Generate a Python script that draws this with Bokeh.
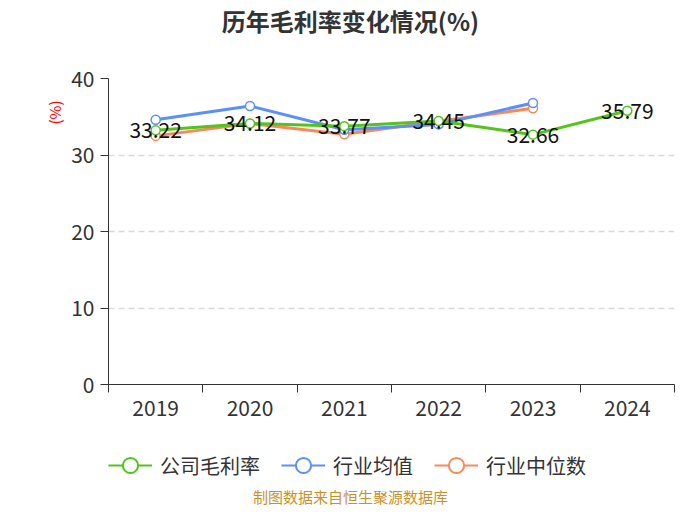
from bokeh.plotting import figure
from bokeh.layouts import column
from bokeh.models import Legend, LegendItem, ColumnDataSource, FixedTicker, Range1d, Title, Label
from bokeh.core.properties import value
from bokeh.embed import file_html
from bokeh.resources import INLINE

years = ["2019", "2020", "2021", "2022", "2023", "2024"]
company = [33.22, 34.12, 33.77, 34.45, 32.66, 35.79]
ind_avg_years = ["2019", "2020", "2021", "2022", "2023"]
ind_avg = [34.6, 36.4, 33.3, 34.0, 36.8]
ind_med_years = ["2019", "2020", "2021", "2022", "2023"]
ind_med = [32.5, 34.1, 32.7, 34.4, 36.1]
y_ticks = [0, 10, 20, 30, 40]
series_names = ["公司毛利率", "行业均值", "行业中位数"]
title_text = "历年毛利率变化情况(%)"
source_text = "制图数据来自恒生聚源数据库"

FONT = "Noto Sans CJK SC"
GREEN = "#52c41a"
BLUE = "#5b8ff9"
ORANGE = "#f7895a"
COLORS = [GREEN, BLUE, ORANGE]
W = 684
FRAME_LEFT = 108   # frames of the stacked figures are aligned to the main chart


def strip(h):
    f = figure(width=W, height=h, x_range=Range1d(0, W), y_range=Range1d(0, h),
               output_backend="svg", toolbar_location=None,
               x_axis_location=None, y_axis_location=None,
               min_border_left=0, min_border_right=0, min_border_top=0, min_border_bottom=0)
    f.grid.visible = False
    f.outline_line_color = None
    return f

# ---- title strip
t = strip(40)
t.add_layout(Label(x=350 - FRAME_LEFT, y=20, x_units="screen", y_units="screen", text=title_text,
                   text_align="center", text_baseline="middle", text_font=FONT,
                   text_font_size="24px", text_font_style="bold", text_color="#333333"))

# ---- main chart
pos = {y: i + 0.5 for i, y in enumerate(years)}

p = figure(width=W, height=385, x_range=Range1d(0, len(years)), y_range=Range1d(0, 40),
           output_backend="svg", toolbar_location=None,
           min_border_left=FRAME_LEFT, min_border_right=10, min_border_top=38, min_border_bottom=41)
p.outline_line_color = None

p.xgrid.grid_line_color = None
p.ygrid.grid_line_color = "#d9d9d9"
p.ygrid.grid_line_dash = "6 4"
p.ygrid.grid_line_width = 1.5

p.yaxis.ticker = FixedTicker(ticks=y_ticks)
p.yaxis.minor_tick_line_color = None
p.yaxis.major_tick_out = 8
p.yaxis.major_tick_in = 0
p.yaxis.major_label_text_font = FONT
p.yaxis.major_label_text_font_size = "21px"
p.yaxis.major_label_text_color = "#333333"
p.yaxis.axis_line_color = "#333333"
p.yaxis.major_tick_line_color = "#333333"
p.yaxis.major_label_standoff = 6

p.xaxis.ticker = FixedTicker(ticks=[pos[y] for y in years],
                             minor_ticks=list(range(len(years) + 1)))
p.xaxis.major_label_overrides = {pos[y]: y for y in years}
p.xaxis.major_tick_line_color = None
p.xaxis.minor_tick_line_color = "#333333"
p.xaxis.minor_tick_out = 8
p.xaxis.minor_tick_in = 0
p.xaxis.major_label_text_font = FONT
p.xaxis.major_label_text_font_size = "21px"
p.xaxis.major_label_text_color = "#333333"
p.xaxis.axis_line_color = "#333333"
p.xaxis.major_label_standoff = 7

p.add_layout(Title(text="(%)", align="right", text_font=FONT, text_font_size="15px",
                   text_font_style="normal", text_color="#ff0000", offset=22, standoff=8), "left")


def add_series(xs, ys, color):
    src = ColumnDataSource(dict(x=[pos[x] for x in xs], y=ys))
    p.line("x", "y", source=src, line_color=color, line_width=3)
    p.scatter("x", "y", source=src, size=9, marker="circle",
              fill_color="white", line_color=color, line_width=1.5)

add_series(ind_med_years, ind_med, ORANGE)
add_series(ind_avg_years, ind_avg, BLUE)
add_series(years, company, GREEN)

lbl_src = ColumnDataSource(dict(x=[pos[y] for y in years], y=company,
                                t=[f"{v:.2f}" for v in company]))
p.text("x", "y", text="t", source=lbl_src, text_align="center", text_baseline="middle",
       text_font=value(FONT), text_font_size="21px", text_color="#111111")

# ---- legend + source strip
q = strip(84)
items = []
for name, color in zip(series_names, COLORS):
    off = ColumnDataSource(dict(x=[-1000], y=[-1000]))
    r1 = q.line("x", "y", source=off, line_color=color, line_width=2)
    r2 = q.scatter("x", "y", source=off, size=18, marker="circle",
                   fill_color="white", line_color=color, line_width=2)
    items.append(LegendItem(label=name, renderers=[r1, r2]))

legend = Legend(items=items, orientation="horizontal", location=(0, 25),
                label_text_font=FONT, label_text_font_size="20px", label_text_color="#333333",
                glyph_width=44, glyph_height=38, spacing=21, border_line_color=None,
                background_fill_alpha=0, margin=0, padding=0, label_standoff=8)
q.add_layout(legend, "center")

q.add_layout(Label(x=350 - FRAME_LEFT, y=13, x_units="screen", y_units="screen", text=source_text,
                   text_align="center", text_baseline="middle", text_font=FONT,
                   text_font_size="15px", text_color="#c8922a"))

open("out.html", "w").write(file_html(column(t, p, q, spacing=0), INLINE))
